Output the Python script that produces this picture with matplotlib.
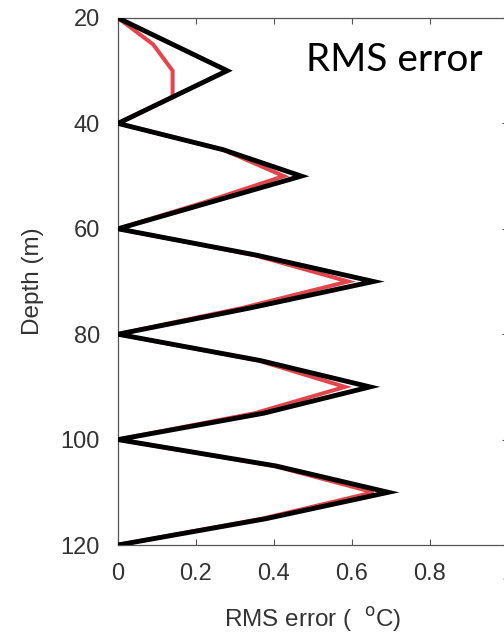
import matplotlib
matplotlib.use("Agg")
import matplotlib.pyplot as plt

# depth levels (m) and RMS error (deg C) for the two runs
depth = [20, 25, 30, 35, 40, 45, 50, 55, 60, 65, 70, 75, 80, 85, 90, 95, 100, 105, 110, 115, 120]
rms_black = [0, 0.14, 0.28, 0.14, 0, 0.27, 0.47, 0.235, 0, 0.355, 0.655, 0.34, 0,
             0.365, 0.646, 0.373, 0, 0.405, 0.693, 0.38, 0]
rms_red = [0, 0.09, 0.14, 0.14, 0, 0.27, 0.425, 0.22, 0, 0.35, 0.59, 0.32, 0,
           0.36, 0.582, 0.35, 0, 0.40, 0.655, 0.37, 0]

xticks = [0, 0.2, 0.4, 0.6, 0.8, 1]
xticklabels = ["0", "0.2", "0.4", "0.6", "0.8", "1"]
yticks = [20, 40, 60, 80, 100, 120]

plt.rcParams['font.family'] = ['Liberation Sans', 'DejaVu Sans']

fig = plt.figure(figsize=(5.04, 6.36), dpi=100)
# axes runs a bit past the right edge of the figure (like the cropped original)
ax = fig.add_axes([118/504, 91/636, 390/504, 527/636])

ax.plot(rms_red, depth, color='#e2464c', lw=2.9, solid_joinstyle='miter', zorder=2)
ax.plot(rms_black, depth, color='black', lw=3.5, solid_joinstyle='miter', zorder=3)

ax.set_xlim(0, 1)
ax.set_ylim(120, 20)
ax.set_xticks(xticks)
ax.set_xticklabels(xticklabels)
ax.set_yticks(yticks)

grey = '#555555'
for s in ax.spines.values():
    s.set_color(grey)
    s.set_linewidth(0.9)
ax.tick_params(direction='in', length=4, width=0.8, color=grey, top=True, right=True,
               labelsize=17, labelcolor='#333333', pad=13)

ax.set_xlabel("RMS error (  $^{\\rm o}$C)", fontsize=17.5, color='#333333', labelpad=14)
ax.set_ylabel("Depth (m)", fontsize=17.5, color='#333333', labelpad=12)

ax.text(0.483, 30, "RMS error", fontsize=28, family='Lato', color='black',
        ha='left', va='baseline')

fig.savefig("out.png", dpi=100)
